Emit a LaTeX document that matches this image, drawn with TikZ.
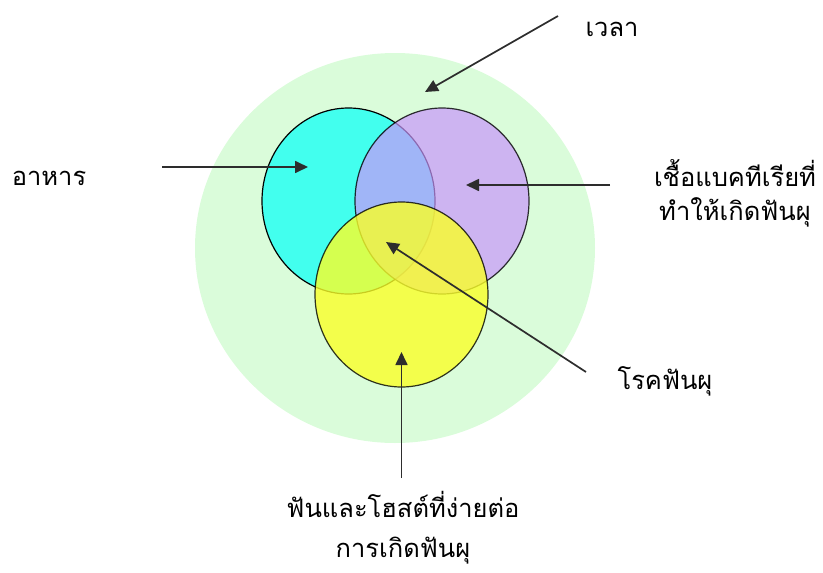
\documentclass[tikz,border=0pt]{standalone}
\usepackage{fontspec}
\newfontfamily\thaifont[Script=Thai]{Loma}
\usetikzlibrary{arrows.meta}
\definecolor{bgg}{RGB}{218,252,218}
\definecolor{cyanc}{RGB}{66,255,238}
\definecolor{purp}{RGB}{200,150,252}
\definecolor{yell}{RGB}{250,255,40}
\definecolor{arrc}{RGB}{45,45,45}
\tikzset{
  lbl/.style={font=\thaifont\fontsize{25.5}{34}\selectfont, text=black, align=center, inner sep=0pt},
  arr/.style={draw=arrc, line width=1.7pt, -{Triangle[length=13pt,width=12pt]}},
  ring/.style={draw=black, line width=1.2pt}
}
\begin{document}
\begin{tikzpicture}[x=1pt,y=-1pt]
\useasboundingbox (0,0) rectangle (823,573);
\fill[bgg] (395,248) ellipse [x radius=200, y radius=195];
\path[ring, fill=cyanc] (348.5,201) ellipse [x radius=86.5, y radius=93];
\path[ring, fill=purp, fill opacity=0.7, draw opacity=0.8] (442,201) ellipse [x radius=87, y radius=93];
\path[ring, fill=yell, fill opacity=0.8, draw opacity=0.8] (401.5,294.5) ellipse [x radius=86.5, y radius=92.5];

\node[lbl] (time) at (612,29) {เวลา};
\node[lbl] (food) at (49,178) {อาหาร};
\node[lbl] (bact) at (735,193) {เชื้อแบคทีเรียที่\\ทำให้เกิดฟันผุ};
\node[lbl] (caries) at (665,381) {โรคฟันผุ};
\node[lbl, font=\thaifont\fontsize{25.5}{40}\selectfont] (host) at (403,528) {ฟันและโฮสต์ที่ง่ายต่อ\\การเกิดฟันผุ};

\coordinate (timeS) at (558,16);
\coordinate (timeT) at (425,92);
\coordinate (foodS) at (162,167);
\coordinate (foodT) at (308,167);
\coordinate (bactS) at (610,185);
\coordinate (bactT) at (466,185);
\coordinate (carS) at (586,372);
\coordinate (carT) at (386,242);
\coordinate (hostS) at (401.5,478);
\coordinate (hostT) at (401.5,352);

\draw[arr] (timeS) -- (timeT);
\draw[arr] (foodS) -- (foodT);
\draw[arr] (bactS) -- (bactT);
\draw[arr] (carS) -- (carT);
\draw[arr] (hostS) -- (hostT);
\end{tikzpicture}
\end{document}
